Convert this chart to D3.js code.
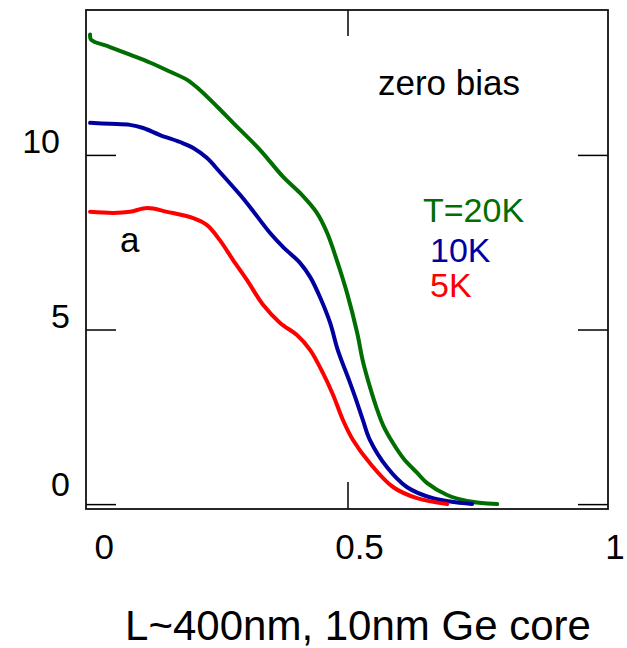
<!DOCTYPE html>
<html>
<head>
<meta charset="utf-8">
<script src="https://cdn.jsdelivr.net/npm/d3@7"></script>
<style>
  body { margin: 0; background: #fff; }
  svg { display: block; font-family: "Liberation Sans", Arial, sans-serif; }
</style>
</head>
<body>
<svg id="chart"></svg>
<script>
// curves: [L, value]
const t20 = [[-0.004, 13.45], [-0.002, 13.3], [0.035, 13.09], [0.074, 12.87], [0.114, 12.64],
  [0.153, 12.38], [0.186, 12.15], [0.211, 11.86], [0.245, 11.38], [0.276, 10.92], [0.329, 10.14],
  [0.374, 9.37], [0.407, 8.91], [0.440, 8.34], [0.460, 7.77], [0.479, 6.99], [0.499, 6.05],
  [0.519, 4.90], [0.530, 4.10], [0.544, 3.35], [0.557, 2.75], [0.570, 2.25], [0.589, 1.75],
  [0.610, 1.30], [0.636, 0.90], [0.656, 0.60], [0.695, 0.26], [0.734, 0.09], [0.793, 0.0]];
const t10 = [[-0.004, 10.92], [0.035, 10.89], [0.074, 10.86], [0.100, 10.77], [0.133, 10.57],
  [0.172, 10.37], [0.198, 10.20], [0.225, 9.91], [0.250, 9.51], [0.290, 8.85], [0.309, 8.51],
  [0.348, 7.77], [0.374, 7.36], [0.407, 6.91], [0.427, 6.50], [0.446, 5.93], [0.466, 5.19],
  [0.481, 4.41], [0.503, 3.55], [0.517, 2.98], [0.530, 2.41], [0.544, 1.83], [0.577, 1.06],
  [0.616, 0.49], [0.667, 0.17], [0.744, 0.0]];
const t5 = [[-0.004, 8.37], [0.041, 8.34], [0.074, 8.37], [0.108, 8.48], [0.147, 8.37],
  [0.198, 8.19], [0.225, 7.99], [0.250, 7.56], [0.276, 6.99], [0.303, 6.42], [0.335, 5.70],
  [0.368, 5.19], [0.401, 4.84], [0.427, 4.41], [0.452, 3.75], [0.472, 3.12], [0.491, 2.41],
  [0.511, 1.83], [0.544, 1.17], [0.589, 0.49], [0.636, 0.17], [0.695, 0.0]];

const seriesNames = ["T=20K", "10K", "5K"];
const seriesColors = ["#006e00", "#0000a0", "#ff0000"];
const xTicks = [0, 0.5, 1];
const yTicks = [0, 5, 10];

class LChart {
  constructor(_config) {
    this.config = {
      parentElement: _config.parentElement,
      containerWidth: 627,
      containerHeight: 648,
      margin: {top: 10, right: 19, bottom: 139, left: 86}
    };
    this.initVis();
  }

  initVis() {
    let vis = this;
    const m = vis.config.margin;
    vis.width = vis.config.containerWidth - m.left - m.right;
    vis.height = vis.config.containerHeight - m.top - m.bottom;

    vis.svg = d3.select(vis.config.parentElement)
        .attr('width', vis.config.containerWidth)
        .attr('height', vis.config.containerHeight);

    vis.chart = vis.svg.append('g')
        .attr('transform', `translate(${m.left},${m.top})`);

    vis.x = d3.scaleLinear().domain([-0.012, 1.01]).range([0, vis.width]);
    vis.y = d3.scaleLinear().domain([-0.14, 14.15]).range([vis.height, 0]);

    // inward ticks on all four sides, no labels from the axis itself
    const yl = d3.axisLeft(vis.y).tickValues(yTicks).tickSize(-30).tickFormat('');
    const yr = d3.axisRight(vis.y).tickValues(yTicks).tickSize(-30).tickFormat('');
    const xb = d3.axisBottom(vis.x).tickValues([0.5]).tickSize(-27).tickFormat('');
    const xt = d3.axisTop(vis.x).tickValues([0.5]).tickSize(-26).tickFormat('');

    vis.chart.append('g').call(yl);
    vis.chart.append('g').attr('transform', `translate(${vis.width},0)`).call(yr);
    vis.chart.append('g').attr('transform', `translate(0,${vis.height})`).call(xb);
    vis.chart.append('g').call(xt);
    vis.chart.selectAll('.domain').remove();
    vis.chart.selectAll('.tick line').attr('stroke', '#000').attr('stroke-width', 1.5);

    vis.chart.append('rect')
        .attr('width', vis.width)
        .attr('height', vis.height)
        .attr('fill', 'none')
        .attr('stroke', '#111')
        .attr('stroke-width', 1.8);

    // tick labels (sit a bit off the ticks, as in the original)
    vis.chart.selectAll('.ylab').data(yTicks).join('text')
        .attr('class', 'ylab')
        .attr('x', d => d === 10 ? -26 : -16)
        .attr('y', d => vis.y(d) - 2 + (d === 0 ? -6 : 0))
        .attr('text-anchor', 'end')
        .attr('font-size', 34)
        .text(d => d);

    vis.chart.selectAll('.xlab').data(xTicks).join('text')
        .attr('class', 'xlab')
        .attr('x', d => vis.x(d) + 12)
        .attr('y', vis.height + 50)
        .attr('text-anchor', 'middle')
        .attr('font-size', 35)
        .text(d => d);

    vis.svg.append('text')
        .attr('x', 358)
        .attr('y', 640)
        .attr('text-anchor', 'middle')
        .attr('font-size', 42)
        .text('L~400nm, 10nm Ge core');

    vis.chart.append('text')
        .attr('x', 292).attr('y', 85)
        .attr('font-size', 35)
        .text('zero bias');

    vis.chart.append('text')
        .attr('x', 34).attr('y', 242)
        .attr('font-size', 35)
        .text('a');
  }

  updateVis(data) {
    let vis = this;
    vis.data = data;
    vis.renderVis();
  }

  renderVis() {
    let vis = this;
    const line = d3.line()
        .x(d => vis.x(d[0]))
        .y(d => vis.y(d[1]))
        .curve(d3.curveCatmullRom.alpha(0.5));

    vis.chart.selectAll('.curve').data(vis.data).join('path')
        .attr('class', 'curve')
        .attr('d', d => line(d.values))
        .attr('fill', 'none')
        .attr('stroke', d => d.color)
        .attr('stroke-width', 4)
        .attr('stroke-linejoin', 'round')
        .attr('stroke-linecap', 'round');

    const legX = [337, 344, 344];
    const legY = [212, 252, 287];
    vis.chart.selectAll('.leg').data(vis.data).join('text')
        .attr('class', 'leg')
        .attr('x', (d, i) => legX[i])
        .attr('y', (d, i) => legY[i])
        .attr('font-size', 34)
        .attr('fill', d => d.color)
        .text(d => d.name);
  }
}

const chart = new LChart({parentElement: '#chart'});
chart.updateVis([t20, t10, t5].map((v, i) => ({name: seriesNames[i], color: seriesColors[i], values: v})));
</script>
</body>
</html>
